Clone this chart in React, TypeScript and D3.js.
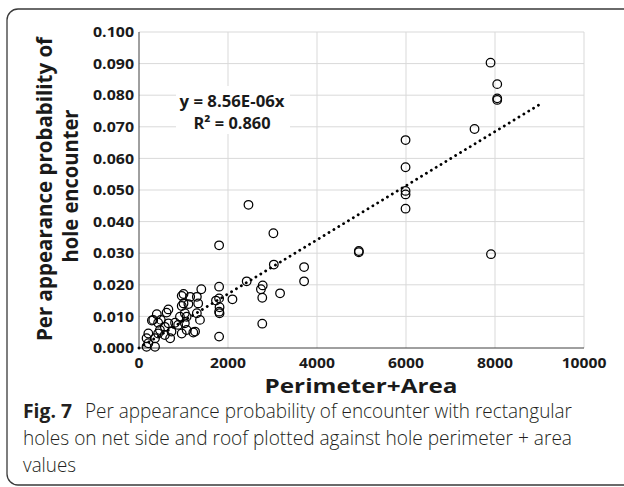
import React from "react";
import * as d3 from "d3";

const WIDTH = 624;
const HEIGHT = 487;

// perimeter + area (x) and per appearance probability (y)
const perimArea = [
  7900, 8050, 8050, 8050, 7540, 5990, 5990, 5990, 5990, 5990,
  4940, 4940, 3710, 3710, 7910, 2460, 3020, 1800, 3030, 2420,
  2780, 2740, 2770, 3170, 2770, 2100, 1800, 1730, 1800, 1810,
  1800, 1810, 1800,
  1400, 1300, 1150, 1000, 960, 1000, 960, 1110, 1330, 660,
  620, 400, 320, 430, 660, 580, 810, 880, 1030, 1070,
  1030, 1260, 1070, 960, 730, 580, 430, 210, 170, 360,
  210, 170, 360, 470, 920, 1300, 1370, 700, 290, 490, 1220,
];
const probability = [
  0.0903, 0.0835, 0.079, 0.0785, 0.0693, 0.0658, 0.0572, 0.0497, 0.0486, 0.0441,
  0.0307, 0.0303, 0.0256, 0.0211, 0.0297, 0.0453, 0.0363, 0.0325, 0.0264, 0.0211,
  0.0198, 0.0186, 0.0159, 0.0173, 0.0077, 0.0154, 0.0194, 0.015, 0.0157, 0.0129,
  0.0115, 0.011, 0.0036,
  0.0186, 0.0162, 0.0162, 0.0171, 0.0165, 0.0141, 0.0133, 0.0139, 0.0141, 0.0122,
  0.0112, 0.0107, 0.0089, 0.008, 0.0078, 0.0067, 0.008, 0.0073, 0.0078, 0.0099,
  0.011, 0.0052, 0.0057, 0.0046, 0.0052, 0.0041, 0.0046, 0.0046, 0.0031, 0.0031,
  0.0015, 0.0004, 0.0004, 0.0057, 0.0099, 0.011, 0.0089, 0.0031, 0.0087, 0.0089, 0.0049,
];

const xTicks = [0, 2000, 4000, 6000, 8000, 10000];
const yTicks = [0, 0.01, 0.02, 0.03, 0.04, 0.05, 0.06, 0.07, 0.08, 0.09, 0.1];
const SLOPE = 8.56e-6;
const TREND_END = 9000;

const captionLines = [
  "Per appearance probability of encounter with rectangular",
  "holes on net side and roof plotted against hole perimeter + area",
  "values",
];

const FONT = "'Open Sans', sans-serif";

export default function App() {
  const x = d3.scaleLinear().domain([0, 10000]).range([139, 584]);
  const y = d3.scaleLinear().domain([0, 0.1]).range([348, 32]);
  const [x0, x1] = x.range();
  const [yb, yt] = y.range();

  const trend = d3
    .line<number>()
    .x((d) => x(d))
    .y((d) => y(d * SLOPE))([0, TREND_END]);

  return (
    <div style={{ position: "absolute", left: 0, top: 0 }}>
      <svg width={WIDTH} height={HEIGHT} style={{ display: "block", background: "#fff" }}>
        <rect x={7} y={9} width={660} height={476} rx={11} fill="none" stroke="#3a3a3a" strokeWidth={1.3} />

        {/* grid */}
        {yTicks.slice(1).map((t) => (
          <line key={`h${t}`} x1={x0} x2={x1} y1={y(t)} y2={y(t)} stroke="#d9d9d9" strokeWidth={1} />
        ))}
        {xTicks.slice(1).map((t) => (
          <line key={`v${t}`} x1={x(t)} x2={x(t)} y1={yt} y2={yb} stroke="#d9d9d9" strokeWidth={1} />
        ))}

        {/* equation label box */}
        <rect x={176} y={86} width={114} height={48} fill="#fff" />

        {/* axes */}
        <line x1={x0} x2={x0} y1={yt} y2={yb} stroke="#404040" strokeWidth={1} />
        <line x1={x0} x2={x1} y1={yb} y2={yb} stroke="#404040" strokeWidth={1} />

        {/* tick labels */}
        {yTicks.map((t) => (
          <text
            key={`yl${t}`}
            transform={`translate(134,${y(t) + 5.2}) scale(1.1,1)`}
            textAnchor="end"
            fontFamily={FONT}
            fontWeight={700}
            fontSize={14.5}
            fill="#1a1a1a"
          >
            {d3.format(".3f")(t)}
          </text>
        ))}
        {xTicks.map((t) => (
          <text
            key={`xl${t}`}
            transform={`translate(${x(t)},367.5) scale(1.08,1)`}
            textAnchor="middle"
            fontFamily={FONT}
            fontWeight={700}
            fontSize={14.5}
            fill="#1a1a1a"
          >
            {t}
          </text>
        ))}

        {/* axis titles */}
        <text
          x={361}
          y={393}
          textAnchor="middle"
          fontFamily={FONT}
          fontWeight={700}
          fontSize={20}
          textLength={193}
          lengthAdjust="spacingAndGlyphs"
          fill="#1a1a1a"
        >
          Perimeter+Area
        </text>
        <g transform="translate(52,189) rotate(-90)">
          <text
            x={0}
            y={0}
            textAnchor="middle"
            fontFamily={FONT}
            fontWeight={700}
            fontSize={20.5}
            textLength={304}
            lengthAdjust="spacingAndGlyphs"
            fill="#1a1a1a"
          >
            Per appearance probability of
          </text>
          <text
            x={3}
            y={26}
            textAnchor="middle"
            fontFamily={FONT}
            fontWeight={700}
            fontSize={20.5}
            textLength={153}
            lengthAdjust="spacingAndGlyphs"
            fill="#1a1a1a"
          >
            hole encounter
          </text>
        </g>

        {/* trendline */}
        <path
          d={trend ?? ""}
          fill="none"
          stroke="#000"
          strokeWidth={2.8}
          strokeLinecap="round"
          strokeDasharray="0.1 5.6"
        />

        {/* points */}
        {perimArea.map((v, i) => (
          <circle
            key={i}
            cx={x(v)}
            cy={y(probability[i])}
            r={4.3}
            fill="none"
            stroke="#000"
            strokeWidth={1.25}
          />
        ))}

        {/* equation */}
        <text x={232} y={107} textAnchor="middle" fontFamily={FONT} fontWeight={700} fontSize={16.5}
          textLength={105} lengthAdjust="spacingAndGlyphs" fill="#1a1a1a">
          y = 8.56E-06x
        </text>
        <text x={232} y={129} textAnchor="middle" fontFamily={FONT} fontWeight={700} fontSize={16.5}
          textLength={77} lengthAdjust="spacingAndGlyphs" fill="#1a1a1a">
          R² = 0.860
        </text>

        {/* caption */}
        <text x={23} y={418} fontFamily={FONT} fontWeight={700} fontSize={20}
          textLength={49} lengthAdjust="spacingAndGlyphs" fill="#231f20">
          Fig. 7
        </text>
        <text x={85} y={418} fontFamily={FONT} fontWeight={300} fontSize={19.5}
          textLength={487} lengthAdjust="spacingAndGlyphs" fill="#231f20">
          {captionLines[0]}
        </text>
        <text x={23} y={445} fontFamily={FONT} fontWeight={300} fontSize={19.5}
          textLength={549} lengthAdjust="spacingAndGlyphs" fill="#231f20">
          {captionLines[1]}
        </text>
        <text x={23} y={472} fontFamily={FONT} fontWeight={300} fontSize={19.5}
          textLength={53} lengthAdjust="spacingAndGlyphs" fill="#231f20">
          {captionLines[2]}
        </text>
      </svg>
    </div>
  );
}
